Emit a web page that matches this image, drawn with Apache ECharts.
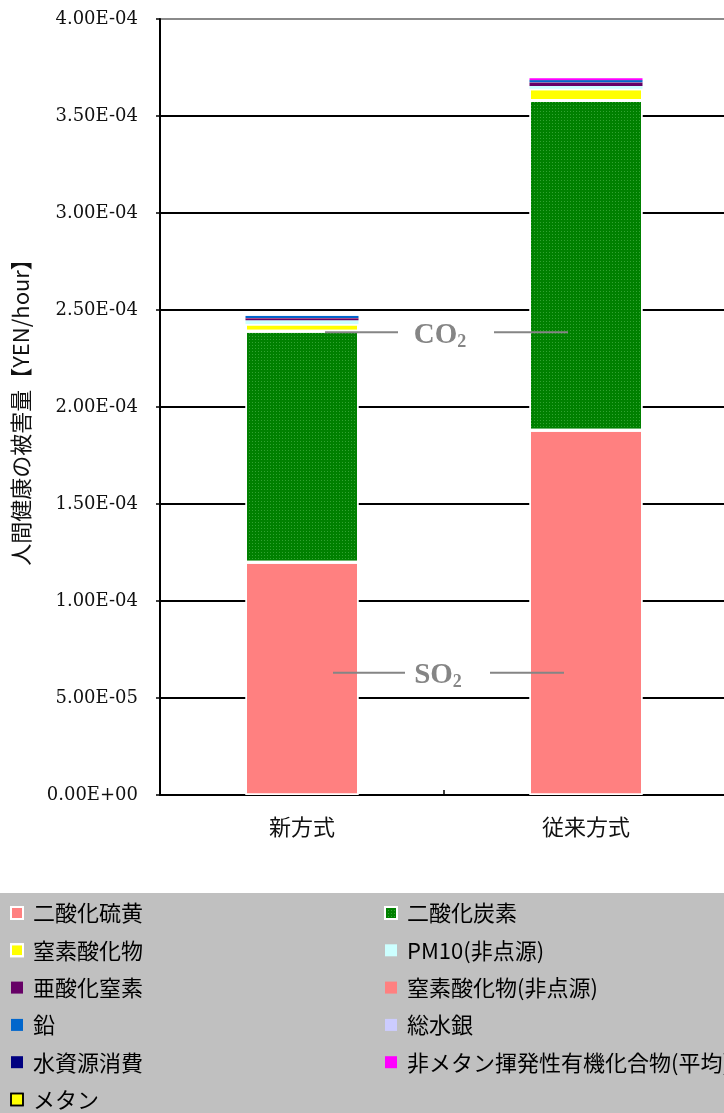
<!DOCTYPE html>
<html>
<head>
<meta charset="utf-8">
<script src="https://cdn.jsdelivr.net/npm/echarts@6/dist/echarts.min.js"></script>
<style>
  html, body { margin: 0; padding: 0; background: #fff; }
  #chart { width: 724px; height: 1113px; }
</style>
</head>
<body>
<div id="chart"></div>
<script>
// Categories and stacked damage values [YEN/hour], bottom segment first
const categories = ['新方式', '従来方式'];
const so2      = [1.20e-4, 1.88e-4];   // 二酸化硫黄
const co2      = [1.19e-4, 1.70e-4];   // 二酸化炭素
const nox      = [3.8e-6, 6.0e-6];     // 窒素酸化物
const pm10     = [1.9e-6, 1.5e-6];     // PM10(非点源)
const n2o      = [1.1e-6, 1.8e-6];     // 亜酸化窒素
const noxNp    = [0.05e-6, 0.05e-6];   // 窒素酸化物(非点源)
const lead     = [1.1e-6, 1.1e-6];     // 鉛
const mercury  = [0.03e-6, 0.03e-6];   // 総水銀
const water    = [0.03e-6, 0.03e-6];   // 水資源消費
const nmvoc    = [0.0e-6, 1.0e-6];     // 非メタン揮発性有機化合物(平均)
const methane  = [0.0e-6, 0.0e-6];     // メタン

const yTickLabels = ['0.00E+00', '5.00E-05', '1.00E-04', '1.50E-04', '2.00E-04',
                     '2.50E-04', '3.00E-04', '3.50E-04', '4.00E-04'];
const yStep = 5e-5;

// Callout levels for the CO2 / SO2 labels
const calloutNames  = ['CO', 'SO'];
const calloutLevels = [2.385e-4, 6.3e-5];

const serif = '"Liberation Serif", "Noto Sans CJK JP", serif';
const tickFont = '"DejaVu Serif", serif';
const jp = '"Noto Sans CJK JP", sans-serif';

const noDecal = { symbol: 'none' };
const whiteEdge = { borderColor: '#ffffff', borderWidth: 1.5 };

function bar(name, data, color, extra) {
  return {
    name: name,
    type: 'bar',
    stack: 'total',
    barWidth: 113,
    data: data,
    itemStyle: Object.assign({ color: color, decal: noDecal }, extra || {}),
    emphasis: { disabled: true }
  };
}

const series = [
  bar('二酸化硫黄', so2, '#FF8080', whiteEdge),
  bar('二酸化炭素', co2, '#008000', Object.assign({
    decal: {
      symbol: 'rect', symbolSize: 1, color: 'rgba(90,190,90,0.55)',
      dashArrayX: [1, 2], dashArrayY: [1, 2], rotation: 0
    }
  }, whiteEdge)),
  bar('窒素酸化物', nox, '#FFFF00', whiteEdge),
  bar('PM10(非点源)', pm10, '#CCFFFF'),
  bar('亜酸化窒素', n2o, '#660066'),
  bar('窒素酸化物(非点源)', noxNp, '#FF8080'),
  bar('鉛', lead, '#0066CC'),
  bar('総水銀', mercury, '#CCCCFF'),
  bar('水資源消費', water, '#000080'),
  bar('非メタン揮発性有機化合物(平均)', nmvoc, '#FF00FF'),
  bar('メタン', methane, '#FFFF00')
];

const legendText = { fontSize: 22, fontFamily: jp, color: '#000', lineHeight: 24, padding: [0, 0, 0, 5] };

const chart = echarts.init(document.getElementById('chart'), null, { renderer: 'canvas' });

const bgRect = { type: 'rect', z: -10, silent: true, shape: { x: 0, y: 893, width: 724, height: 220 },
                 style: { fill: '#C0C0C0' } };

chart.setOption({
  animation: false,
  backgroundColor: '#ffffff',
  aria: { enabled: true, decal: { show: true } },
  grid: { left: 160, top: 19, width: 568, height: 776, containLabel: false, outerBoundsMode: 'none' },
  legend: [
    {
      orient: 'vertical', left: 10, top: 901, padding: 0, itemGap: 13.3,
      itemWidth: 12, itemHeight: 12, icon: 'rect', selectedMode: false,
      textStyle: legendText,
      data: ['二酸化硫黄', '窒素酸化物', '亜酸化窒素', '鉛', '水資源消費',
             { name: 'メタン', itemStyle: { borderColor: '#000000', borderWidth: 1.5 } }]
    },
    {
      orient: 'vertical', left: 384, top: 901, padding: 0, itemGap: 13.3,
      itemWidth: 12, itemHeight: 12, icon: 'rect', selectedMode: false,
      textStyle: legendText,
      data: ['二酸化炭素', 'PM10(非点源)', '窒素酸化物(非点源)', '総水銀', '非メタン揮発性有機化合物(平均)']
    }
  ],
  xAxis: {
    type: 'category',
    data: categories,
    axisLine: { show: true, lineStyle: { color: '#000', width: 2 } },
    axisTick: { show: true, inside: true, length: 5, lineStyle: { color: '#000', width: 1.5 } },
    axisLabel: { fontSize: 22, fontFamily: jp, color: '#111', margin: 21 },
    splitLine: { show: false }
  },
  yAxis: {
    type: 'value',
    min: 0,
    max: 4e-4,
    interval: yStep,
    name: '人間健康の被害量【YEN/hour】',
    nameLocation: 'middle',
    nameRotate: 90,
    nameGap: 128,
    nameTextStyle: { fontSize: 22, fontFamily: jp, color: '#111' },
    axisLine: { show: true, lineStyle: { color: '#000', width: 2 } },
    axisTick: { show: true, length: 4, lineStyle: { color: '#000', width: 1.5 } },
    axisLabel: {
      fontSize: 18, fontFamily: tickFont, color: '#111', margin: 22,
      formatter: function (v) { return yTickLabels[Math.round(v / yStep)]; }
    },
    splitLine: {
      show: true,
      lineStyle: {
        width: 2,
        color: ['#000', '#000', '#000', '#000', '#000', '#000', '#000', '#000', '#8a8a8a']
      }
    }
  },
  graphic: [bgRect],
  series: series
});

// Callout labels with leader lines, placed from data coordinates
function callouts() {
  const p0 = chart.convertToPixel({ gridIndex: 0 }, [0, 0]);
  const p1 = chart.convertToPixel({ gridIndex: 0 }, [1, 0]);
  const c0 = p0[0], c1 = p1[0], mid = (c0 + c1) / 2;
  const gray = '#858585';
  const els = [bgRect];
  const geo = [
    { l0: c0 + 23, l1: mid - 46, r0: mid + 50, r1: c1 - 18, tx: mid - 4 },
    { l0: c0 + 31, l1: mid - 39, r0: mid + 46, r1: c1 - 22, tx: mid - 6 }
  ];
  calloutLevels.forEach(function (lv, i) {
    const y = chart.convertToPixel({ gridIndex: 0 }, [0, lv])[1];
    const g = geo[i];
    els.push({ type: 'line', z: 100, silent: true, shape: { x1: g.l0, y1: y, x2: g.l1, y2: y },
      style: { stroke: gray, lineWidth: 2 } });
    els.push({ type: 'line', z: 100, silent: true, shape: { x1: g.r0, y1: y, x2: g.r1, y2: y },
      style: { stroke: gray, lineWidth: 2 } });
    els.push({
      type: 'text', z: 100, silent: true, x: g.tx, y: y + 3,
      style: {
        text: '{a|' + calloutNames[i] + '}{b|2}',
        align: 'center', verticalAlign: 'middle',
        rich: {
          a: { fontSize: 29, fontWeight: 'bold', fontFamily: serif, fill: gray, color: gray },
          b: { fontSize: 18, fontWeight: 'bold', fontFamily: serif, fill: gray, color: gray,
               padding: [14, 0, 0, 0] }
        }
      }
    });
  });
  chart.setOption({ graphic: els }, { replaceMerge: ['graphic'] });
}
callouts();
</script>
</body>
</html>
